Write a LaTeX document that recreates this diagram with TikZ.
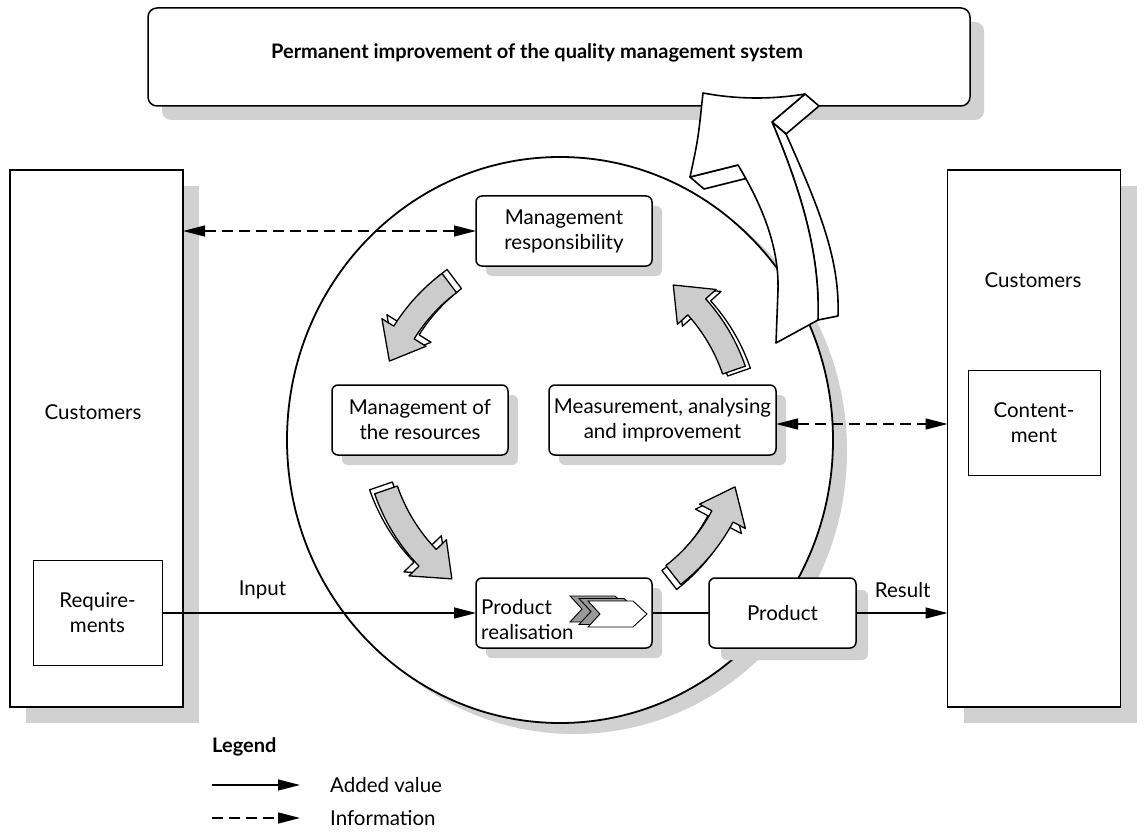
\documentclass[tikz,border=0pt]{standalone}
\usepackage{fontspec}
\setmainfont{Lato}
\usetikzlibrary{arrows.meta,shadows}
\newcommand\ringarrow[4]{%
  \pgfmathsetmacro\hb{#2+10}%
  \pgfmathsetmacro\bx{560+#3}%
  \pgfmathsetmacro\by{430+#4}%
  \begin{scope}[shift={(\bx,\by)}]
    \filldraw[ringback] (#1:196) arc[start angle=#1,end angle=\hb,radius=196] -- (\hb:210) -- (#2:184) -- (\hb:158) -- (\hb:172) arc[start angle=\hb,end angle=#1,radius=172] -- cycle;
  \end{scope}
  \begin{scope}[shift={(560,430)}]
    \filldraw[ringfront] (#1:196) arc[start angle=#1,end angle=\hb,radius=196] -- (\hb:210) -- (#2:184) -- (\hb:158) -- (\hb:172) arc[start angle=\hb,end angle=#1,radius=172] -- cycle;
  \end{scope}}
\begin{document}
\begin{tikzpicture}[x=1pt,y=-1pt,
  font=\fontsize{20.5}{25}\selectfont,
  shadowcol/.style={fill=black!18},
  shad/.style={drop shadow={shadow xshift=#1,shadow yshift=-#1,fill=black!18,opacity=1}},
  shad/.default=12pt,
  box/.style={draw,line width=1.5pt,rounded corners=6pt,fill=white,align=center,inner sep=0pt,outer sep=0pt,minimum height=70pt},
  bigbox/.style={draw,line width=1.8pt,fill=white,inner sep=0pt,outer sep=0pt,minimum width=173pt,minimum height=537pt},
  plainbox/.style={draw,line width=1pt,fill=white,align=center,inner sep=0pt,outer sep=0pt,minimum height=105pt},
  txt/.style={align=center,inner sep=0pt},
  flow/.style={line width=1.3pt,-{Triangle[length=22pt,width=11pt]}},
  info/.style={line width=1.3pt,dash pattern=on 11pt off 6pt,{Triangle[length=22pt,width=11pt]}-{Triangle[length=22pt,width=11pt]}},
  ringback/.style={fill=white,draw,line width=1.3pt,line join=round},
  ringfront/.style={fill=black!20,draw,line width=1.3pt,line join=round},
  bigarrow/.style={fill=white,draw,line width=1.6pt,line join=round},
  chev/.style={draw,line width=0.9pt,line join=miter}]
\useasboundingbox[fill=white] (0,0) rectangle (1146,837);
% top box
\node[box,shad=14pt,rounded corners=9pt,minimum width=822pt,minimum height=98pt] (top) at (559,57) {};
\node[txt,font=\fontsize{20}{25}\selectfont\bfseries] (toptext) at (537,53) {Permanent improvement of the quality management system};
% customer boxes
\node[bigbox,shad=16pt] (lbox) at (96.5,438.5) {};
\node[bigbox,shad=16pt] (rbox) at (1034,438.5) {};
\node[txt] (lcust) at (93,412) {Customers};
\node[txt] (rcust) at (1033,280) {Customers};
\node[plainbox,minimum width=129pt] (req) at (97.5,612.5) {Require-\\ments};
\node[plainbox,minimum width=132pt] (cont) at (1034,422.5) {Content-\\ment};
% circle
\coordinate (c) at (560,440);
\fill[shadowcol] (574,451) ellipse[x radius=273,y radius=283];
\filldraw[fill=white,line width=1.8pt] (c) ellipse[x radius=273,y radius=283];
% process boxes
\node[box,shad=10pt,minimum width=176pt] (mresp) at (564,231) {Management\\responsibility};
\node[box,shad=10pt,minimum width=176pt] (mres) at (420,420) {Management of\\the resources};
\node[box,shad=10pt,minimum width=227pt] (meas) at (662.5,420) {Measurement, analysing\\and improvement};
\node[box,shad=10pt,minimum width=176pt] (preal) at (564,613) {};
\node[box,shad=12pt,minimum width=147pt] (prod) at (782.5,613) {Product};
% chevrons
\foreach \s in {2,1}{
  \filldraw[chev,fill=black!40,shift={(-9*\s,-2.5*\s)}] (588,601) -- (633,601) -- (647,614) -- (633,627) -- (588,627) -- (600,614) -- cycle;}
\filldraw[chev,fill=white] (588,601) -- (633,601) -- (647,614) -- (633,627) -- (588,627) -- (600,614) -- cycle;
\node[txt,align=left,anchor=west] (prealtext) at (481,620) {Product\\realisation};
% ring arrows
\ringarrow{-127}{-158}{5}{-4}
\ringarrow{-19}{-52}{5}{2}
\ringarrow{-199}{-234}{-5}{-4}
\ringarrow{52}{18}{-4}{5}
% big arrow
\filldraw[bigarrow] (805,94) -- (819,106) -- (786,134) -- (772,122) -- cycle;
\filldraw[bigarrow] (772,122) .. controls (805,200) and (820,260) .. (818,320) -- (838,316) .. controls (840,260) and (820,210) .. (786,134) -- cycle;
\filldraw[bigarrow] (690,177) -- (704,189) -- (752,177) -- (738,165) -- cycle;
\filldraw[bigarrow] (703,93) .. controls (740,100) and (775,99) .. (805,94) -- (772,122) .. controls (805,200) and (820,260) .. (818,320) -- (776,343) -- (778,290) .. controls (779,250) and (765,210) .. (738,165) -- (690,177) .. controls (698,140) .. (703,93) -- cycle;
% connectors
\draw[flow] (req.east |- preal.west) -- node[pos=0.32,yshift=23pt,txt] (inlbl) {Input} (preal.west);
\draw[line width=1.3pt] (preal.east) -- (prod.west);
\draw[flow] (prod.east) -- node[pos=0.51,yshift=23pt,txt] (reslbl) {Result} (prod.east -| rbox.west);
\draw[info] (lbox.east |- mresp.west) -- (mresp.west);
\draw[info] ([yshift=-4pt]meas.east) -- ([yshift=-4pt]meas.east -| rbox.west);
% legend
\node[txt,anchor=west,font=\fontsize{20}{25}\selectfont\bfseries] (leg) at (212,747) {Legend};
\coordinate (l1a) at (212,785); \coordinate (l1b) at (300,785);
\coordinate (l2a) at (212,818); \coordinate (l2b) at (300,818);
\draw[flow] (l1a) -- (l1b);
\draw[line width=1.3pt,dash pattern=on 11pt off 6pt,-{Triangle[length=22pt,width=11pt]}] (l2a) -- (l2b);
\node[txt,anchor=west] (leg1) at (330,785) {Added value};
\node[txt,anchor=west] (leg2) at (330,818) {Information};
\end{tikzpicture}
\end{document}
